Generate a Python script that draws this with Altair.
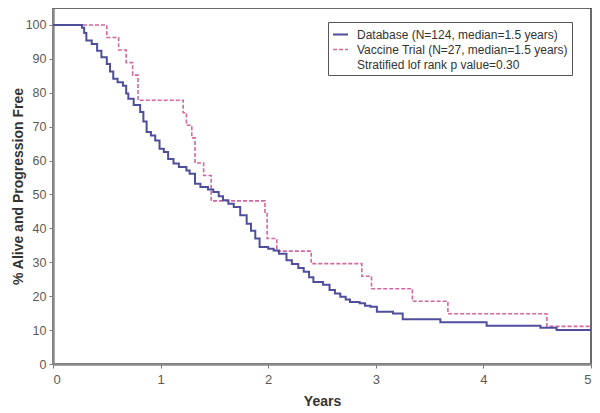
import altair as alt
import pandas as pd

# Database (N=124) Kaplan-Meier curve
db_years = [0, 0.27, 0.29, 0.31, 0.36, 0.41, 0.45, 0.50, 0.53, 0.56, 0.60, 0.65, 0.68, 0.70,
            0.75, 0.81, 0.84, 0.87, 0.91, 0.95, 0.99, 1.03, 1.07, 1.12, 1.17, 1.24, 1.27,
            1.32, 1.37, 1.44, 1.49, 1.54, 1.58, 1.63, 1.68, 1.74, 1.80, 1.84, 1.88, 1.92,
            2.00, 2.05, 2.10, 2.17, 2.22, 2.28, 2.33, 2.38, 2.42, 2.51, 2.57, 2.62, 2.67,
            2.72, 2.76, 2.85, 2.90, 2.95, 3.01, 3.16, 3.25, 3.60, 4.03, 4.53, 4.68, 5.00]
db_pct = [100, 99.2, 97.6, 95.4, 94.4, 92.4, 90.5, 88.5, 86.3, 84.1, 83.1, 82.1, 79.8, 78.2,
          76.4, 74.3, 71.5, 68.4, 67.4, 65.9, 63.5, 62.5, 60.5, 59.1, 58.1, 57.1, 56.1,
          53.2, 52.2, 51.5, 50.7, 49.5, 48.3, 47.3, 46.3, 43.9, 41.4, 39.3, 37.0, 34.5,
          34.0, 33.5, 32.5, 30.6, 29.5, 28.3, 27.2, 25.6, 24.2, 23.4, 21.8, 20.8, 19.8,
          19.0, 18.3, 17.9, 17.2, 16.9, 15.4, 14.9, 13.2, 12.3, 11.3, 10.7, 10.0, 10.0]

# Vaccine Trial (N=27) curve
vt_years = [0, 0.50, 0.61, 0.68, 0.74, 0.79, 1.21, 1.24, 1.29, 1.32, 1.40, 1.47,
            1.97, 1.99, 2.08, 2.40, 2.87, 2.96, 3.34, 3.67, 4.59, 5.00]
vt_pct = [100, 96.3, 92.6, 88.9, 85.2, 77.8, 74.1, 70.4, 66.7, 59.3, 55.6, 48.1,
          44.4, 37.0, 33.3, 29.6, 25.9, 22.2, 18.5, 14.8, 11.1, 11.1]

labels = ["Database (N=124, median=1.5 years)",
          "Vaccine Trial (N=27, median=1.5 years)",
          "Stratified lof rank p value=0.30"]
y_ticks = [0, 10, 20, 30, 40, 50, 60, 70, 80, 90, 100]
x_ticks = [0, 1, 2, 3, 4, 5]

db = pd.DataFrame({"Years": db_years, "pct": db_pct, "series": labels[0]})
vt = pd.DataFrame({"Years": vt_years, "pct": vt_pct, "series": labels[1]})

FONT = "Liberation Sans"

x = alt.X("Years:Q", scale=alt.Scale(domain=[0, 5], nice=False),
          axis=alt.Axis(values=x_ticks, title="Years", grid=False, format="d"))
y = alt.Y("pct:Q", scale=alt.Scale(domain=[0, 105], nice=False),
          axis=alt.Axis(values=y_ticks, title="% Alive and Progression Free", grid=False))

color = alt.Color("series:N",
                  scale=alt.Scale(domain=labels, range=["#4e4e9c", "#d4679f", "rgba(0,0,0,0)"]),
                  legend=alt.Legend(title=None, orient="none", legendX=275, legendY=14,
                                    strokeColor="#555555", padding=4, fillColor="white",
                                    symbolType="stroke", symbolSize=225, labelOffset=8,
                                    rowPadding=0, labelFontSize=12, labelColor="#333333",
                                    labelFont=FONT, labelLimit=400))
dash = alt.StrokeDash("series:N",
                      scale=alt.Scale(domain=labels, range=[[1, 0], [4, 2], [1, 0]]),
                      legend=None)
width = alt.StrokeWidth("series:N",
                        scale=alt.Scale(domain=labels, range=[2, 1.2, 1]),
                        legend=None)

vt_line = alt.Chart(vt).mark_line(interpolate="step-after").encode(
    x=x, y=y, color=color, strokeDash=dash, strokeWidth=width)
db_line = alt.Chart(db).mark_line(interpolate="step-after").encode(
    x=x, y=y, color=color, strokeDash=dash, strokeWidth=width)

chart = alt.layer(vt_line, db_line).properties(
    width=538, height=356,
    autosize=alt.AutoSizeParams(type="none"),
    padding={"left": 45, "top": 0, "right": 1, "bottom": 45},
).configure_view(
    stroke="#3a3a3a", strokeWidth=1.5
).configure_axis(
    domainColor="#8a8a8a", domainWidth=2.5, tickColor="#777777", tickSize=4,
    labelColor="#5a5a5a", labelFontSize=13, labelFont=FONT, labelPadding=3,
    titleColor="#333333", titleFont=FONT, titleFontSize=14, titleFontWeight="bold"
).configure_axisX(
    titlePadding=8, labelPadding=5
).configure_axisY(
    titlePadding=0, labelFontSize=12.5
)

chart.save("out.html", embed_options={"renderer": "svg", "actions": False})
